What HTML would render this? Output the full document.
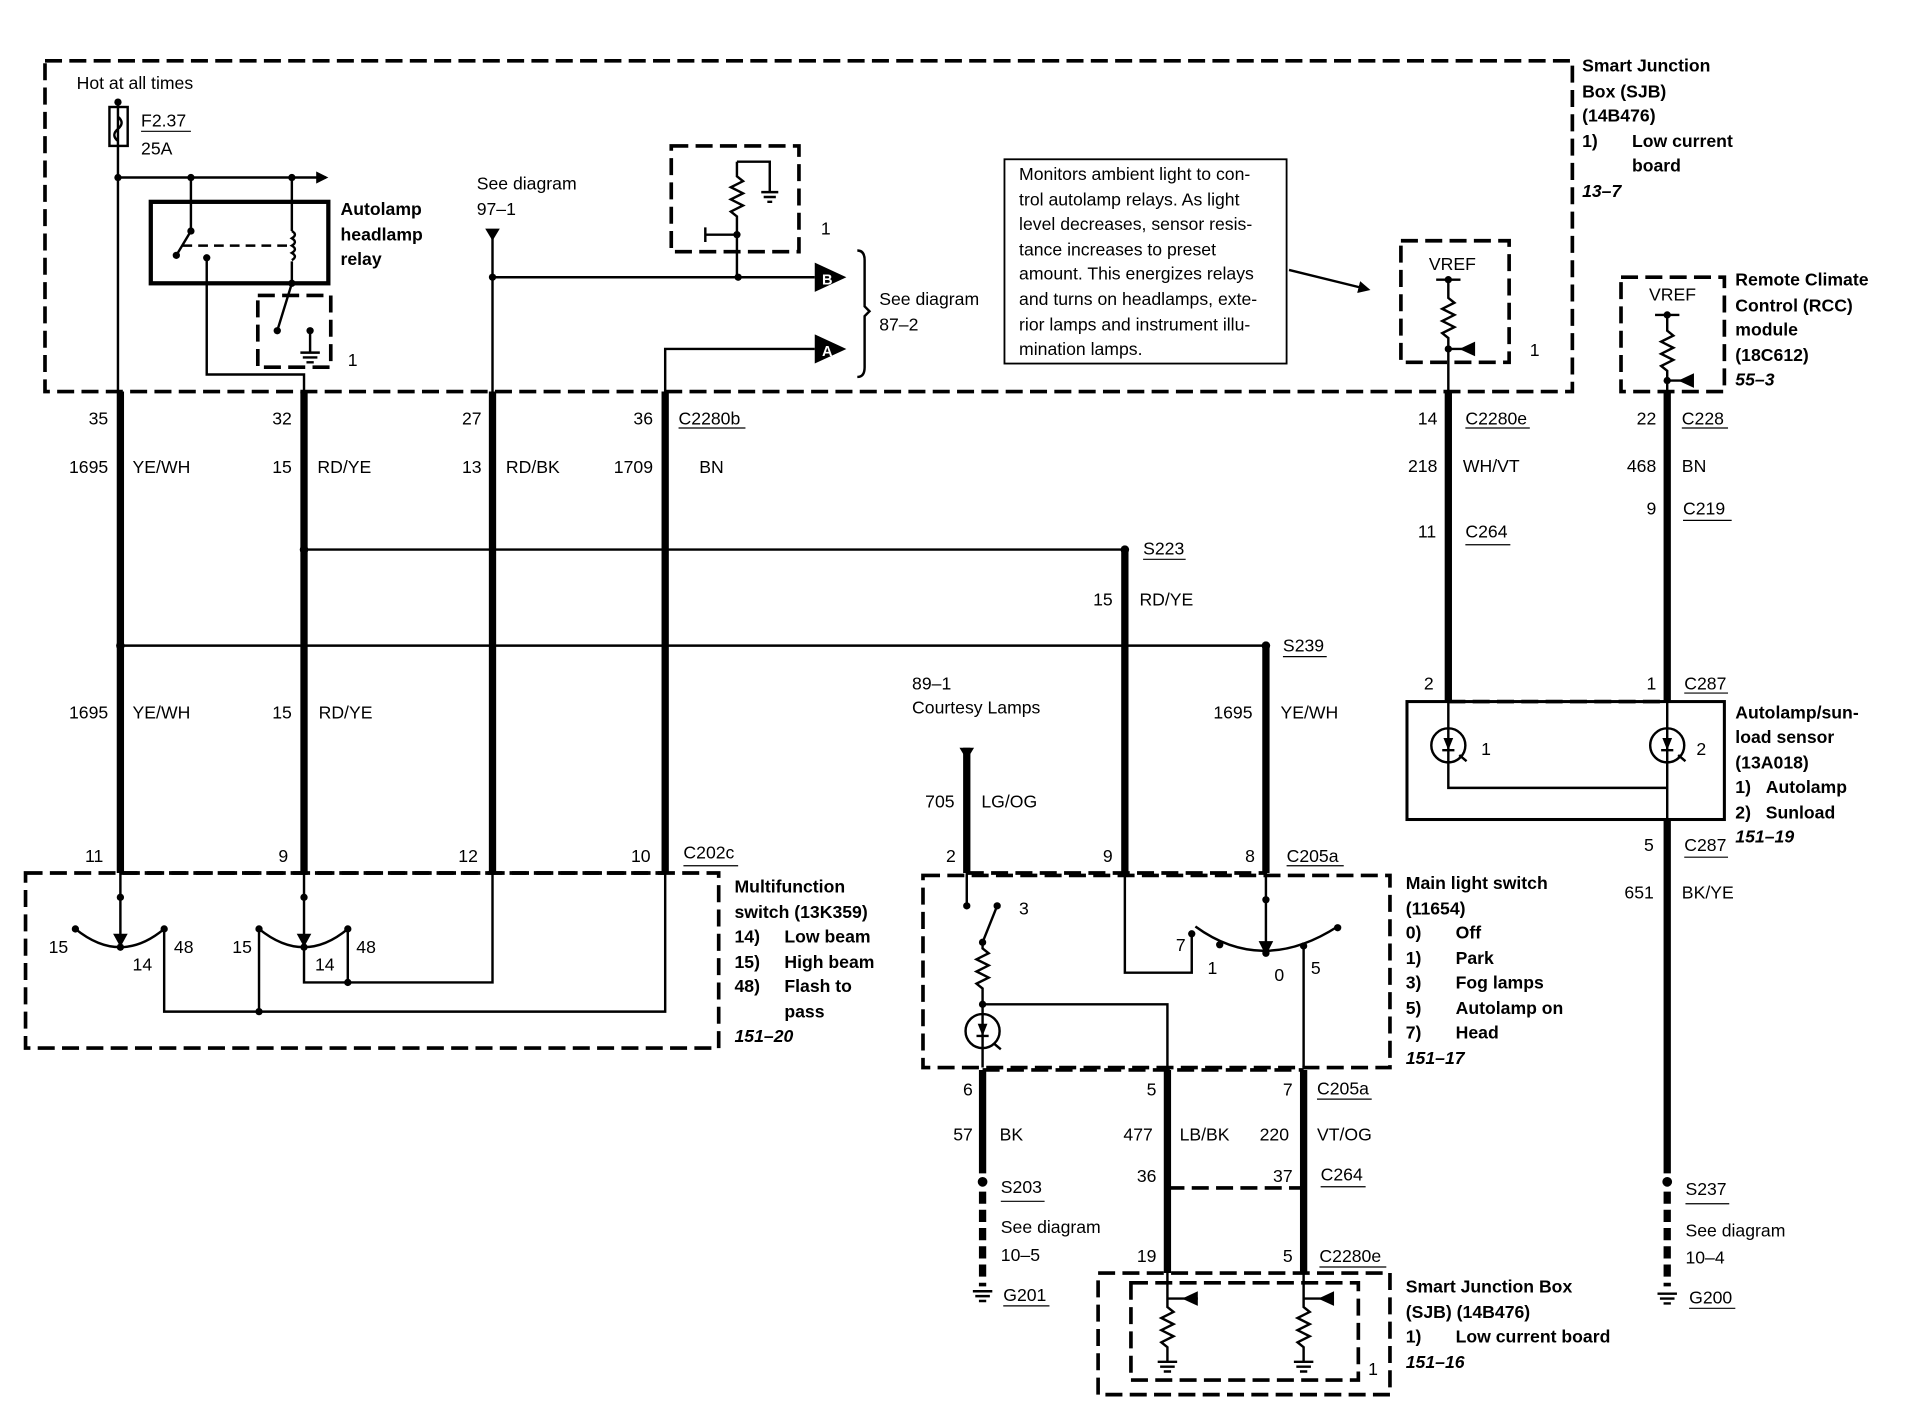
<!DOCTYPE html>
<html><head><meta charset="utf-8"><style>
html,body{margin:0;padding:0;background:#fff}
svg{display:block}
text{font-family:"Liberation Sans",Arial,sans-serif;font-size:14.5px;fill:#000}
.b{font-weight:bold}
.i{font-style:italic;font-weight:bold}
.r{text-anchor:end}
</style></head><body>
<svg width="1908" height="1408" viewBox="0 0 1569 1158" preserveAspectRatio="none" xmlns="http://www.w3.org/2000/svg">
<defs>
<marker id="ah" markerWidth="10" markerHeight="10" refX="8" refY="5" orient="auto" markerUnits="userSpaceOnUse"><path d="M0,0 L10,5 L0,10 z"/></marker>
</defs>
<g fill="none" stroke="#000">
<g stroke-width="3" stroke-dasharray="14 6">
<rect x="37" y="50" width="1256" height="272"/>
<rect x="212" y="243" width="60" height="59"/>
<rect x="552" y="120" width="105" height="87"/>
<rect x="1152" y="198" width="89" height="100"/>
<rect x="1333" y="228" width="85" height="94"/>
<rect x="21" y="718" width="570" height="144"/>
<rect x="759" y="720" width="384" height="158"/>
<rect x="903" y="1047" width="240" height="100"/>
<rect x="930" y="1055" width="187" height="80"/>
<path d="M99 718H547M795 718H1041M808 880H1072M960 977H1072M1191 577H1371"/>
</g>
<rect x="124" y="166" width="146" height="67" stroke-width="3.5"/>
<g stroke-width="6">
<path d="M99 322V718M250 322V718M405 322V718M547 322V718"/>
<path d="M925 452V718M1041 531V718M795 615V718"/>
<path d="M1191 322V577M1371 322V577M1371 674V965"/>
<path d="M808 880V965M960 880V1047M1072 880V1047"/>
</g>
<g stroke-width="6" stroke-dasharray="10 5"><path d="M808 980V1058M1371 980V1058"/></g>
<g stroke-width="2">
<rect x="90" y="88" width="15" height="32"/>
<path d="M97 82V322M97 96q6 5 0 10q-6 5 0 10"/>
<path d="M97 146H268" marker-end="url(#ah)"/>
<path d="M157 146V190L145 210M240 146V190M240 215V233L228 272M255 272V290M170 212V308H250V322"/>
<path d="M240 190q5 3 0 6q5 3 0 6q5 3 0 6q5 3 0 6"/>
<path d="M150 202H240" stroke-dasharray="8 5"/>
<path d="M405 195V322M405 228H670M547 322V287H670"/>
<path d="M606 133H633V158M606 133V145l5 4-10 5 10 5-10 5 10 5-10 5 5 4V228M580 193H606M580 187V199"/>
<path d="M705 206q6 0 6 8V252l4 4-4 4V302q0 8-6 8"/>
<rect x="826" y="131" width="232" height="168" stroke-width="1.5"/>
<path d="M1060 222L1125 238" marker-end="url(#ah)"/>
<path d="M1181 230H1201M1191 230V245l5 4-10 5 10 5-10 5 10 5-10 5 5 4V322M1191 287H1210"/>
<path d="M1361 259H1381M1371 259V272l5 4-10 5 10 5-10 5 10 5-10 5 5 4V322M1371 313H1390"/>
<path d="M250 452H925M99 531H1041"/>
<path d="M99 718V772M62 764q37 30 73 0M135 764V832H547V718M250 718V772M213 764q37 30 73 0M250 779V808H405V718M286 764V808M213 764V832"/>
<path d="M795 718V745M820 745L808 775M808 775V780l5 4-10 5 10 5-10 5 10 5-10 5 5 4V878M808 826H960V878"/>
<circle cx="808" cy="848" r="14"/>
<path d="M925 718V800H980V768M983 762q55 40 117 0M1041 718V775M1072 778V878"/>
<path d="M960 1047V1075l5 4-10 5 10 5-10 5 10 5-10 5 5 4V1120M960 1068H985M1072 1047V1075l5 4-10 5 10 5-10 5 10 5-10 5 5 4V1120M1072 1068H1097"/>
<rect x="1157" y="577" width="261" height="97" stroke-width="2.5"/>
<circle cx="1191" cy="613" r="14"/><circle cx="1371" cy="613" r="14"/>
<path d="M1191 577V648H1371V577M1371 648V674"/>
</g>
</g>
<g fill="#000">
<path d="M399 188H411L405 198z"/>
<path d="M789 615H801L795 625z"/>
<path d="M93 768H105L99 779z"/><path d="M244 768H256L250 779z"/><path d="M1035 774H1047L1041 786z"/>
<path d="M670 216L696 228L670 240z"/><path d="M670 275L696 287L670 299z"/>
<path d="M1213 281V293L1200 287z"/><path d="M1393 307V319L1380 313z"/>
<path d="M985 1062V1074L972 1068z"/><path d="M1097 1062V1074L1084 1068z"/>
<g>
<circle cx="97" cy="84" r="3"/><circle cx="97" cy="146" r="3"/><circle cx="157" cy="146" r="3"/><circle cx="240" cy="146" r="3"/>
<circle cx="157" cy="190" r="3"/><circle cx="145" cy="210" r="3"/><circle cx="170" cy="212" r="3"/><circle cx="240" cy="233" r="3"/><circle cx="228" cy="272" r="3"/><circle cx="255" cy="272" r="3"/>
<circle cx="405" cy="228" r="3"/><circle cx="607" cy="228" r="3"/><circle cx="606" cy="193" r="3"/>
<circle cx="1191" cy="230" r="3"/><circle cx="1191" cy="287" r="3"/><circle cx="1371" cy="259" r="3"/><circle cx="1371" cy="313" r="3"/>
<circle cx="250" cy="452" r="3.5"/><circle cx="925" cy="452" r="3.5"/><circle cx="99" cy="531" r="3.5"/><circle cx="1041" cy="531" r="3.5"/>
<circle cx="99" cy="738" r="3"/><circle cx="62" cy="764" r="3"/><circle cx="135" cy="764" r="3"/><circle cx="99" cy="779" r="3"/>
<circle cx="250" cy="738" r="3"/><circle cx="213" cy="764" r="3"/><circle cx="286" cy="764" r="3"/><circle cx="250" cy="779" r="3"/><circle cx="286" cy="808" r="3"/><circle cx="213" cy="832" r="3"/>
<circle cx="795" cy="745" r="3"/><circle cx="820" cy="745" r="3"/><circle cx="808" cy="775" r="3"/><circle cx="808" cy="826" r="3"/>
<circle cx="980" cy="768" r="3"/><circle cx="1003" cy="777" r="3"/><circle cx="1041" cy="784" r="3"/><circle cx="1072" cy="778" r="3"/><circle cx="1100" cy="763" r="3"/><circle cx="1041" cy="740" r="3"/>
<circle cx="808" cy="972" r="4"/><circle cx="1371" cy="972" r="4"/>
</g>
<path d="M804 842H812L808 852z"/><path d="M1187 607H1195L1191 617z"/><path d="M1367 607H1375L1371 617z"/>
</g>
<g stroke="#000" stroke-width="2" fill="none">
<path d="M803 852H813M1186 617H1196M1366 617H1376"/>
<path d="M817 858l6 5M1200 621l6 5M1380 621l6 5"/>
<path d="M247 290H263M249 294H261M252 298H258M626 158H640M628 162H638M631 166H635"/>
<path d="M800 1062H816M802 1066H814M805 1070H811M1363 1064H1379M1365 1068H1377M1368 1072H1374"/>
<path d="M952 1120H968M954 1124H966M957 1128H963M1064 1120H1080M1066 1124H1078M1069 1128H1075"/>
<path d="M116 108H157M558 352H613M1205 352H1258M1383 352H1421M1205 448H1242M1384 428H1424M940 460H975M1055 540H1091M1385 570H1421M1385 705H1421M562 712H607M1058 712H1105M1083 904H1128M1086 976H1123M1085 1042H1140M823 988H859M825 1074H863M1386 990H1422M1389 1076H1427" stroke-width="1"/>
</g>
<text x="63" y="73">Hot at all times</text>
<text x="116" y="104">F2.37</text><text x="116" y="127">25A</text>
<text class="b" x="280" y="177">Autolamp</text><text class="b" x="280" y="198">headlamp</text><text class="b" x="280" y="218">relay</text>
<text x="286" y="301">1</text>
<text x="392" y="156">See diagram</text><text x="392" y="177">97–1</text>
<text x="675" y="193">1</text>
<text x="676" y="234" style="fill:#fff;font-size:12px;font-weight:bold">B</text>
<text x="676" y="293" style="fill:#fff;font-size:12px;font-weight:bold">A</text>
<text x="723" y="251">See diagram</text><text x="723" y="272">87–2</text>
<g style="font-size:13.8px">
<text x="838" y="148">Monitors ambient light to con-</text>
<text x="838" y="169">trol autolamp relays. As light</text>
<text x="838" y="189">level decreases, sensor resis-</text>
<text x="838" y="210">tance increases to preset</text>
<text x="838" y="230">amount. This energizes relays</text>
<text x="838" y="251">and turns on headlamps, exte-</text>
<text x="838" y="272">rior lamps and instrument illu-</text>
<text x="838" y="292">mination lamps.</text>
</g>
<text x="1175" y="222">VREF</text><text x="1258" y="293">1</text>
<text x="1356" y="247">VREF</text>
<text class="b" x="1301" y="59">Smart Junction</text><text class="b" x="1301" y="80">Box (SJB)</text><text class="b" x="1301" y="100">(14B476)</text>
<text class="b" x="1301" y="121">1)</text><text class="b" x="1342" y="121">Low current</text><text class="b" x="1342" y="141">board</text><text class="i" x="1301" y="162">13–7</text>
<text class="b" x="1427" y="235">Remote Climate</text><text class="b" x="1427" y="256">Control (RCC)</text><text class="b" x="1427" y="276">module</text><text class="b" x="1427" y="297">(18C612)</text><text class="i" x="1427" y="317">55–3</text>
<text class="r" x="89" y="349">35</text><text class="r" x="240" y="349">32</text><text class="r" x="396" y="349">27</text><text class="r" x="537" y="349">36</text><text x="558" y="349">C2280b</text>
<text class="r" x="89" y="389">1695</text><text x="109" y="389">YE/WH</text><text class="r" x="240" y="389">15</text><text x="261" y="389">RD/YE</text>
<text class="r" x="396" y="389">13</text><text x="416" y="389">RD/BK</text><text class="r" x="537" y="389">1709</text><text x="575" y="389">BN</text>
<text class="r" x="1182" y="349">14</text><text x="1205" y="349">C2280e</text><text class="r" x="1182" y="388">218</text><text x="1203" y="388">WH/VT</text>
<text class="r" x="1362" y="349">22</text><text x="1383" y="349">C228</text><text class="r" x="1362" y="388">468</text><text x="1383" y="388">BN</text>
<text class="r" x="1181" y="442">11</text><text x="1205" y="442">C264</text><text class="r" x="1362" y="423">9</text><text x="1384" y="423">C219</text>
<text x="940" y="456">S223</text><text class="r" x="915" y="498">15</text><text x="937" y="498">RD/YE</text>
<text x="1055" y="536">S239</text>
<text class="r" x="89" y="591">1695</text><text x="109" y="591">YE/WH</text><text class="r" x="240" y="591">15</text><text x="262" y="591">RD/YE</text>
<text class="r" x="1030" y="591">1695</text><text x="1053" y="591">YE/WH</text>
<text x="750" y="567">89–1</text><text x="750" y="587">Courtesy Lamps</text>
<text class="r" x="785" y="664">705</text><text x="807" y="664">LG/OG</text>
<text class="r" x="85" y="709">11</text><text class="r" x="237" y="709">9</text><text class="r" x="393" y="709">12</text><text class="r" x="535" y="709">10</text><text x="562" y="706">C202c</text>
<text class="r" x="786" y="709">2</text><text class="r" x="915" y="709">9</text><text class="r" x="1032" y="709">8</text><text x="1058" y="709">C205a</text>
<text class="r" x="1362" y="567">1</text><text class="r" x="1179" y="567">2</text><text x="1385" y="567">C287</text>
<text x="1218" y="621">1</text><text x="1395" y="621">2</text>
<text class="b" x="1427" y="591">Autolamp/sun-</text><text class="b" x="1427" y="611">load sensor</text><text class="b" x="1427" y="632">(13A018)</text>
<text class="b" x="1427" y="652">1)</text><text class="b" x="1452" y="652">Autolamp</text><text class="b" x="1427" y="673">2)</text><text class="b" x="1452" y="673">Sunload</text><text class="i" x="1427" y="693">151–19</text>
<text class="r" x="1360" y="700">5</text><text x="1385" y="700">C287</text><text class="r" x="1360" y="739">651</text><text x="1383" y="739">BK/YE</text>
<text x="40" y="784">15</text><text x="109" y="798">14</text><text x="143" y="784">48</text>
<text x="191" y="784">15</text><text x="259" y="798">14</text><text x="293" y="784">48</text>
<text class="b" x="604" y="734">Multifunction</text><text class="b" x="604" y="755">switch (13K359)</text>
<text class="b" x="604" y="775">14)</text><text class="b" x="645" y="775">Low beam</text>
<text class="b" x="604" y="796">15)</text><text class="b" x="645" y="796">High beam</text>
<text class="b" x="604" y="816">48)</text><text class="b" x="645" y="816">Flash to</text><text class="b" x="645" y="837">pass</text><text class="i" x="604" y="857">151–20</text>
<text x="838" y="752">3</text><text x="967" y="782">7</text><text x="993" y="801">1</text><text x="1048" y="807">0</text><text x="1078" y="801">5</text>
<text class="b" x="1156" y="731">Main light switch</text><text class="b" x="1156" y="752">(11654)</text>
<text class="b" x="1156" y="772">0)</text><text class="b" x="1197" y="772">Off</text>
<text class="b" x="1156" y="793">1)</text><text class="b" x="1197" y="793">Park</text>
<text class="b" x="1156" y="813">3)</text><text class="b" x="1197" y="813">Fog lamps</text>
<text class="b" x="1156" y="834">5)</text><text class="b" x="1197" y="834">Autolamp on</text>
<text class="b" x="1156" y="854">7)</text><text class="b" x="1197" y="854">Head</text><text class="i" x="1156" y="875">151–17</text>
<text class="r" x="800" y="901">6</text><text class="r" x="951" y="901">5</text><text class="r" x="1063" y="901">7</text><text x="1083" y="900">C205a</text>
<text class="r" x="800" y="938">57</text><text x="822" y="938">BK</text><text class="r" x="948" y="938">477</text><text x="970" y="938">LB/BK</text><text class="r" x="1060" y="938">220</text><text x="1083" y="938">VT/OG</text>
<text x="823" y="981">S203</text><text x="823" y="1014">See diagram</text><text x="823" y="1037">10–5</text><text x="825" y="1070">G201</text>
<text class="r" x="951" y="972">36</text><text class="r" x="1063" y="972">37</text><text x="1086" y="971">C264</text>
<text class="r" x="951" y="1038">19</text><text class="r" x="1063" y="1038">5</text><text x="1085" y="1038">C2280e</text>
<text x="1125" y="1131">1</text>
<text class="b" x="1156" y="1063">Smart Junction Box</text><text class="b" x="1156" y="1084">(SJB) (14B476)</text>
<text class="b" x="1156" y="1104">1)</text><text class="b" x="1197" y="1104">Low current board</text><text class="i" x="1156" y="1125">151–16</text>
<text x="1386" y="983">S237</text><text x="1386" y="1017">See diagram</text><text x="1386" y="1039">10–4</text><text x="1389" y="1072">G200</text>
</svg>
</body></html>
